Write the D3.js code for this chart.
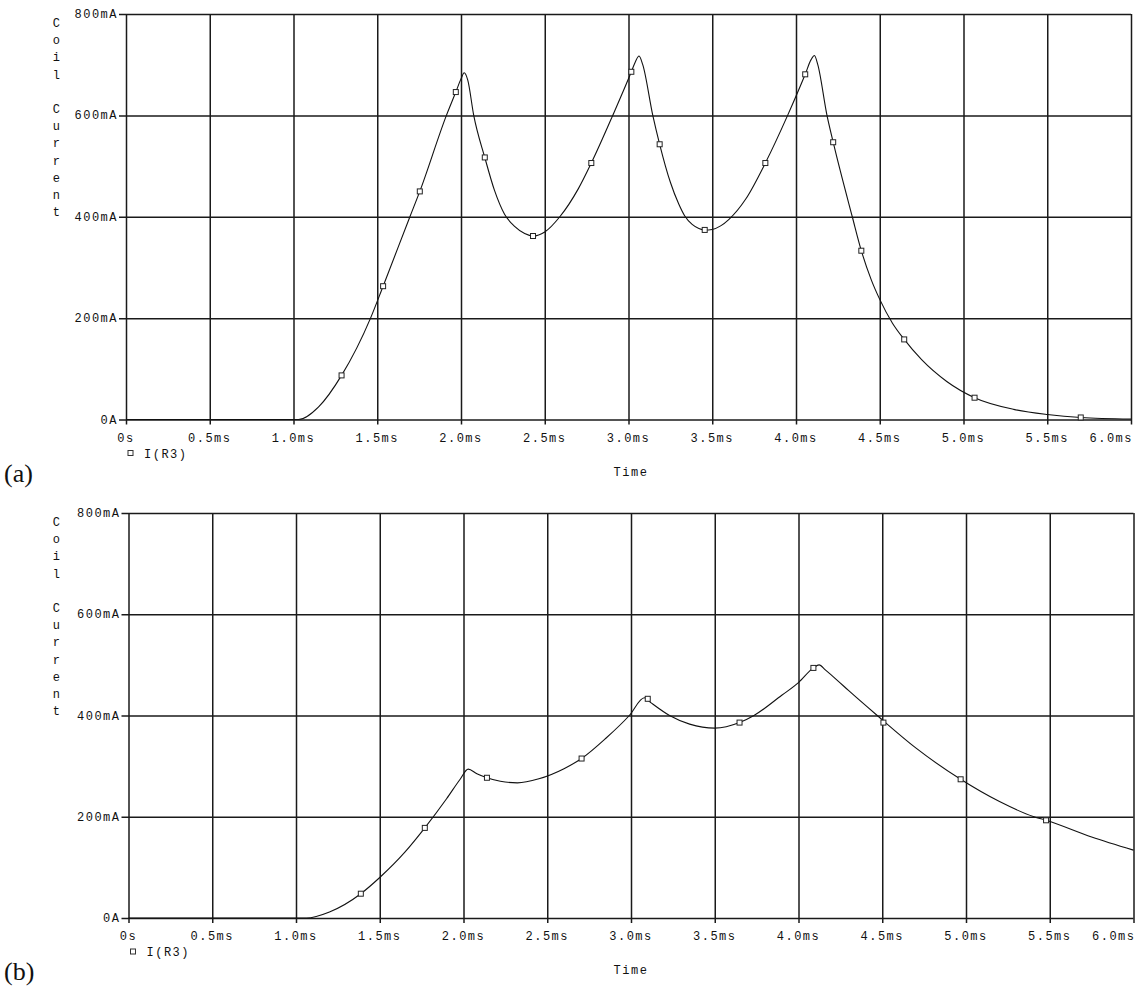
<!DOCTYPE html>
<html>
<head>
<meta charset="utf-8">
<script src="https://cdn.jsdelivr.net/npm/d3@7"></script>
<style>
  body { margin: 0; background: #fff; }
  svg { display: block; }
  .tick-label { font-family: "Liberation Mono", monospace; font-size: 12px; letter-spacing: 1.5px; fill: #111; }
  .panel-tag { font-family: "Liberation Serif", "Times New Roman", serif; font-size: 26px; fill: #111; }
</style>
</head>
<body>
<svg id="chart"></svg>
<script>
// axis ticks
var timeTicks = [0, 0.5, 1.0, 1.5, 2.0, 2.5, 3.0, 3.5, 4.0, 4.5, 5.0, 5.5, 6.0]
var timeLabels = ["0s", "0.5ms", "1.0ms", "1.5ms", "2.0ms", "2.5ms", "3.0ms", "3.5ms", "4.0ms", "4.5ms", "5.0ms", "5.5ms", "6.0ms"]
var currentTicks = [0, 200, 400, 600, 800]
var currentLabels = ["0A", "200mA", "400mA", "600mA", "800mA"]

// trace (a): time in ms, coil current in mA
var traceA_t  = [0, 1.03, 1.15, 1.287, 1.46, 1.535, 1.695, 1.754, 1.913, 1.969, 2.0, 2.019, 2.04, 2.076, 2.142, 2.2, 2.26, 2.32, 2.38, 2.43, 2.5, 2.59, 2.7, 2.778, 2.906, 3.017, 3.04, 3.063, 3.085, 3.145, 3.186, 3.25, 3.3, 3.335, 3.38, 3.42, 3.455, 3.5, 3.55, 3.6, 3.7, 3.817, 3.95, 4.055, 4.09, 4.11, 4.13, 4.185, 4.222, 4.336, 4.39, 4.45, 4.5, 4.576, 4.646, 4.75, 4.9, 5.066, 5.3, 5.5, 5.7, 6.0]
var traceA_mA = [0, 0, 25, 87, 200, 263, 400, 450, 600, 646, 672, 684, 670, 600, 517, 452, 405, 381, 367, 362, 370, 400, 455, 506, 600, 686, 705, 717, 700, 600, 543, 468, 425, 402, 385, 377, 374, 375, 382, 395, 435, 506, 600, 681, 710, 718, 700, 600, 547, 400, 333, 275, 237, 190, 158, 118, 75, 43, 20, 10, 4, 1]
var markA_t  = [1.287, 1.535, 1.754, 1.969, 2.142, 2.43, 2.778, 3.017, 3.186, 3.455, 3.817, 4.055, 4.222, 4.39, 4.646, 5.066, 5.70]
var markA_mA = [87, 263, 450, 646, 517, 362, 506, 686, 543, 374, 506, 681, 547, 333, 158, 43, 4]

// trace (b)
var traceB_t  = [0, 1.063, 1.2, 1.387, 1.5, 1.65, 1.769, 1.9, 1.98, 2.028, 2.08, 2.14, 2.22, 2.322, 2.45, 2.6, 2.705, 2.85, 2.99, 3.08, 3.12, 3.23, 3.35, 3.5, 3.648, 3.734, 3.9, 4.0, 4.089, 4.123, 4.16, 4.23, 4.3, 4.47, 4.7, 4.968, 5.2, 5.406, 5.478, 5.75, 6.0]
var traceB_mA = [0, 0, 12, 48, 80, 130, 178, 236, 274, 294, 285, 277, 270, 267, 275, 295, 315, 355, 400, 435, 425, 400, 383, 375, 386, 400, 440, 465, 494, 500, 490, 470, 449, 400, 336, 274, 230, 200, 193, 160, 134]
var markB_t  = [1.387, 1.769, 2.14, 2.705, 3.10, 3.648, 4.089, 4.507, 4.968, 5.478]
var markB_mA = [48, 178, 277, 315, 433, 386, 494, 386, 274, 193]

var width = 1135, height = 986

var panels = [
  {tag: "(a)", left: 126, right: 1131, top: 14, bottom: 419.5, t: traceA_t, v: traceA_mA, mt: markA_t, mv: markA_mA},
  {tag: "(b)", left: 128.5, right: 1133.5, top: 513, bottom: 918, t: traceB_t, v: traceB_mA, mt: markB_t, mv: markB_mA}
]

var svg = d3.select("#chart").attr("width", width).attr("height", height)

panels.forEach(function (p) {
  var x = d3.scaleLinear().domain([0, 6]).range([p.left, p.right])
  var y = d3.scaleLinear().domain([0, 800]).range([p.bottom, p.top])
  var g = svg.append("g")

  // grid (vertical + horizontal), drawn with axes so ticks stick out a bit
  g.append("g")
    .attr("transform", "translate(0," + p.bottom + ")")
    .call(d3.axisBottom(x).tickValues(timeTicks).tickSize(-(p.bottom - p.top)).tickSizeOuter(0).tickFormat(""))
    .call(function (a) {
      a.select(".domain").remove()
      a.selectAll("line").attr("stroke", "#1a1a1a").attr("stroke-width", 1.5).attr("y2", -(p.bottom - p.top)).attr("y1", 5)
    })

  g.append("g")
    .attr("transform", "translate(" + p.left + ",0)")
    .call(d3.axisLeft(y).tickValues(currentTicks).tickSize(-(p.right - p.left)).tickSizeOuter(0).tickFormat(""))
    .call(function (a) {
      a.select(".domain").remove()
      a.selectAll("line").attr("stroke", "#1a1a1a").attr("stroke-width", 1.5).attr("x1", -7)
    })

  // tick labels
  g.selectAll(".xl").data(timeTicks).enter().append("text")
    .attr("class", "tick-label")
    .attr("x", function (d, i) { return i == timeTicks.length - 1 ? x(d) + 2 : x(d) })
    .attr("y", p.bottom + 22)
    .attr("text-anchor", function (d, i) { return i == timeTicks.length - 1 ? "end" : "middle" })
    .text(function (d, i) { return timeLabels[i] })

  g.selectAll(".yl").data(currentTicks).enter().append("text")
    .attr("class", "tick-label")
    .attr("x", p.left - 8)
    .attr("y", function (d) { return y(d) + 4 })
    .attr("text-anchor", "end")
    .text(function (d, i) { return currentLabels[i] })

  // stacked y title
  var title = "Coil Current".split("")
  g.selectAll(".yt").data(title).enter().append("text")
    .attr("class", "tick-label")
    .attr("x", 57)
    .attr("y", function (d, i) { return p.top + 13 + i * 17.2 })
    .attr("text-anchor", "middle")
    .text(function (d) { return d })

  // x title
  g.append("text").attr("class", "tick-label")
    .attr("x", 631).attr("y", p.bottom + 56)
    .attr("text-anchor", "middle")
    .text("Time")

  // legend
  g.append("rect")
    .attr("x", p.left + 2).attr("y", p.bottom + 31)
    .attr("width", 5).attr("height", 5)
    .attr("fill", "none").attr("stroke", "#333").attr("stroke-width", 1)
  g.append("text").attr("class", "tick-label")
    .attr("x", p.left + 18).attr("y", p.bottom + 38)
    .text("I(R3)")

  // panel tag
  g.append("text").attr("class", "panel-tag")
    .attr("x", 4).attr("y", p.bottom + 62)
    .text(p.tag)

  // curve
  var pts = p.t.map(function (t, i) { return [t, p.v[i]] })
  g.append("path")
    .datum(pts)
    .attr("fill", "none")
    .attr("stroke", "#111")
    .attr("stroke-width", 1.1)
    .attr("d", d3.line()
      .x(function (d) { return x(d[0]) })
      .y(function (d) { return y(d[1]) })
      .curve(d3.curveMonotoneX))

  // markers
  var marks = p.mt.map(function (t, i) { return [t, p.mv[i]] })
  g.selectAll(".mk").data(marks).enter().append("rect")
    .attr("x", function (d) { return x(d[0]) - 2.5 })
    .attr("y", function (d) { return y(d[1]) - 2.5 })
    .attr("width", 5).attr("height", 5)
    .attr("fill", "#fff").attr("stroke", "#222").attr("stroke-width", 1)
})
</script>
</body>
</html>
